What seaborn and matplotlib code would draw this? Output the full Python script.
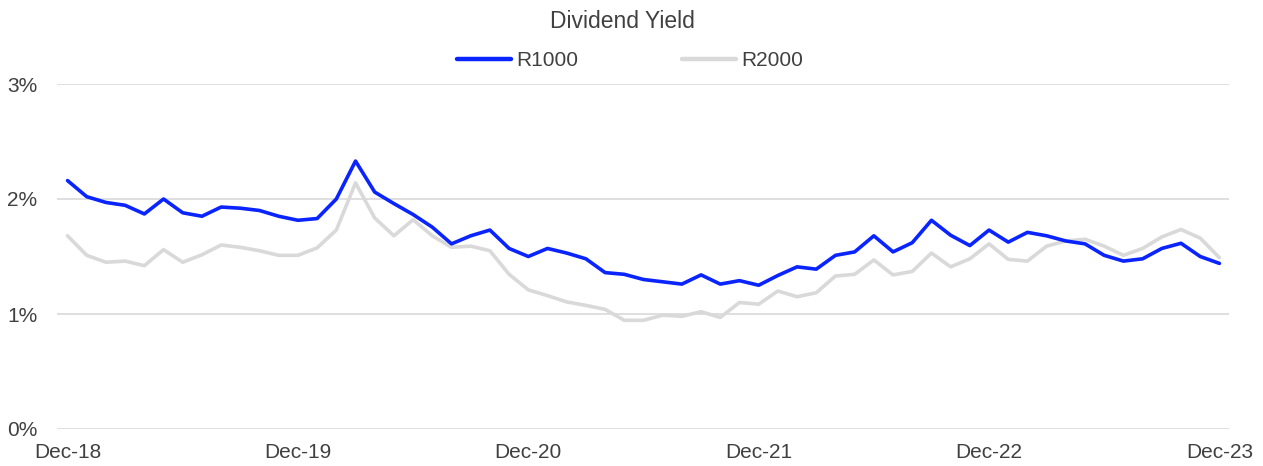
import numpy as np
import pandas as pd
import matplotlib
matplotlib.use("Agg")
import matplotlib.pyplot as plt
import seaborn as sns
from matplotlib.ticker import FuncFormatter

# ====================================
# DATA (monthly, Dec-18 .. Dec-23)
# ====================================

months = pd.date_range("2018-12-01", "2023-12-01", freq="MS")

r1000 = [
    2.16, 2.02, 1.97, 1.945, 1.87, 2.00, 1.88, 1.85, 1.93, 1.92, 1.90, 1.85,
    1.815, 1.83, 2.00, 2.33, 2.06, 1.96, 1.865, 1.755, 1.61, 1.68, 1.73, 1.57,
    1.50, 1.57, 1.53, 1.48, 1.36, 1.345, 1.30, 1.28, 1.26, 1.34, 1.26, 1.29,
    1.25, 1.335, 1.41, 1.39, 1.51, 1.54, 1.68, 1.54, 1.62, 1.815, 1.685, 1.595,
    1.73, 1.625, 1.71, 1.68, 1.635, 1.61, 1.51, 1.46, 1.48, 1.57, 1.615, 1.50,
    1.44,
]

r2000 = [
    1.68, 1.51, 1.45, 1.46, 1.42, 1.56, 1.45, 1.515, 1.60, 1.58, 1.55, 1.51,
    1.51, 1.575, 1.73, 2.14, 1.835, 1.68, 1.82, 1.68, 1.58, 1.59, 1.55, 1.345,
    1.21, 1.16, 1.105, 1.075, 1.04, 0.945, 0.945, 0.99, 0.98, 1.02, 0.97, 1.10,
    1.085, 1.20, 1.15, 1.185, 1.33, 1.345, 1.47, 1.34, 1.37, 1.53, 1.41, 1.48,
    1.61, 1.475, 1.46, 1.59, 1.635, 1.65, 1.59, 1.51, 1.57, 1.67, 1.735, 1.66,
    1.49,
]

series_names = ["R1000", "R2000"]
series_colors = ["#0a24ff", "#d9d9d9"]

df = pd.DataFrame({
    "idx": np.arange(len(months)),
    "R1000": r1000,
    "R2000": r2000,
})
long_df = df.melt(id_vars="idx", var_name="Index", value_name="Yield")

# ====================================
# PLOT
# ====================================

sns.set_style("white")
plt.rcParams["font.family"] = ["Liberation Sans", "DejaVu Sans"]
text_color = "#404040"

fig = plt.figure(figsize=(12.63, 4.66), dpi=100)
ax = fig.add_axes([57 / 1263, 1 - 429 / 466, 1172 / 1263, 345 / 466])

sns.lineplot(
    data=long_df,
    x="idx",
    y="Yield",
    hue="Index",
    hue_order=series_names[::-1],
    palette=dict(zip(series_names, series_colors)),
    linewidth=2.6,
    ax=ax,
    legend=False,
)

ax.set_ylim(0, 3)
ax.set_yticks([0, 1, 2, 3])
ax.yaxis.set_major_formatter(FuncFormatter(lambda v, p: f"{v:.0f}%"))
ax.set_xlim(-0.55, 60.5)

tick_pos = [i for i, m in enumerate(months) if m.month == 12]
ax.set_xticks(tick_pos)
ax.set_xticklabels([months[i].strftime("%b-%y") for i in tick_pos])

ax.grid(axis="y", color="#d9d9d9", linewidth=1.2)
ax.grid(axis="x", visible=False)
for s in ax.spines.values():
    s.set_visible(False)
ax.tick_params(axis="both", length=0, labelsize=15, colors=text_color)
ax.tick_params(axis="y", pad=14)
ax.tick_params(axis="x", pad=10)
ax.set_xlabel("")
ax.set_ylabel("")

# legend
handles = [plt.Line2D([], [], color=c, linewidth=3.2) for c in series_colors]
fig.legend(
    handles,
    series_names,
    loc="center",
    bbox_to_anchor=(630 / 1263, 1 - 61 / 466),
    ncol=2,
    frameon=False,
    fontsize=15,
    handlelength=2.6,
    handletextpad=0.25,
    columnspacing=5.0,
    labelcolor=text_color,
)

fig.text(622 / 1263, 1 - 22 / 466, "Dividend Yield", ha="center", va="center",
         fontsize=16.5, color=text_color)

fig.savefig("out.png", dpi=100)
